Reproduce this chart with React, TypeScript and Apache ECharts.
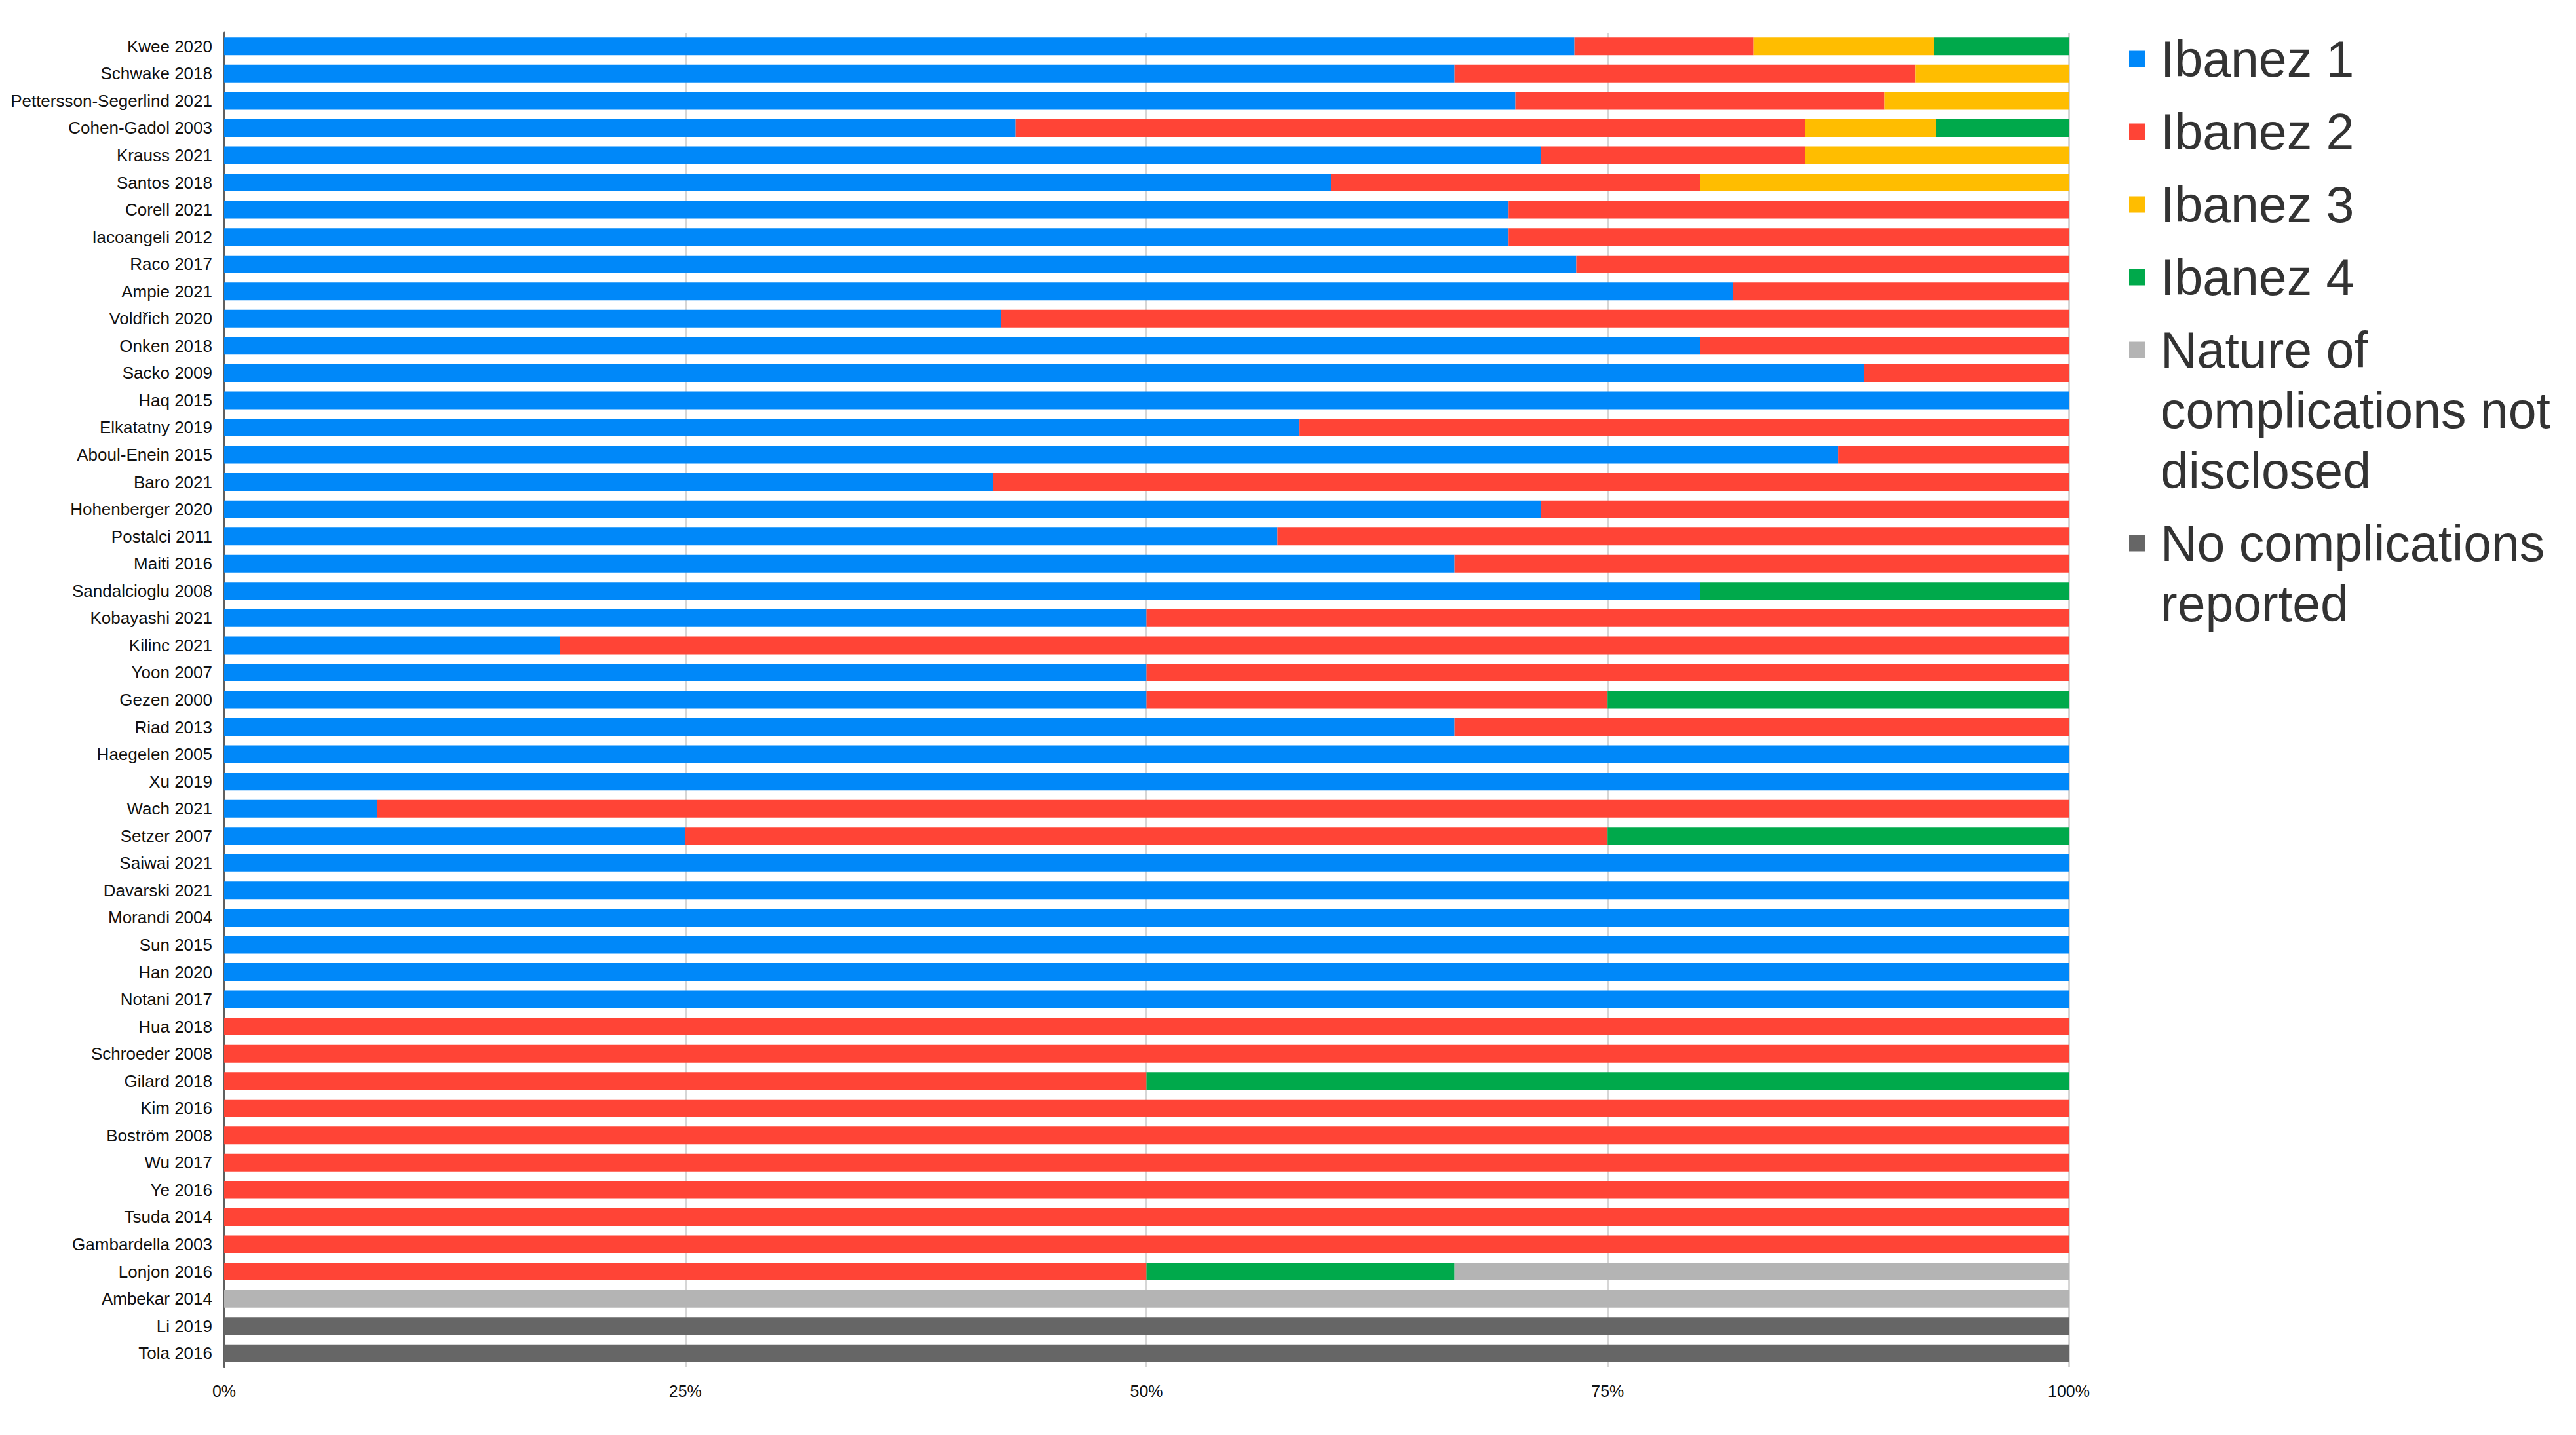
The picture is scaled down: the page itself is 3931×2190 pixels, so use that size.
import React, { useEffect, useRef } from "react";
import * as echarts from "echarts";

const categories = [
  "Kwee 2020", "Schwake 2018", "Pettersson-Segerlind 2021", "Cohen-Gadol 2003", "Krauss 2021",
  "Santos 2018", "Corell 2021", "Iacoangeli 2012", "Raco 2017", "Ampie 2021",
  "Voldřich 2020", "Onken 2018", "Sacko 2009", "Haq 2015", "Elkatatny 2019",
  "Aboul-Enein 2015", "Baro 2021", "Hohenberger 2020", "Postalci 2011", "Maiti 2016",
  "Sandalcioglu 2008", "Kobayashi 2021", "Kilinc 2021", "Yoon 2007", "Gezen 2000",
  "Riad 2013", "Haegelen 2005", "Xu 2019", "Wach 2021", "Setzer 2007",
  "Saiwai 2021", "Davarski 2021", "Morandi 2004", "Sun 2015", "Han 2020",
  "Notani 2017", "Hua 2018", "Schroeder 2008", "Gilard 2018", "Kim 2016",
  "Boström 2008", "Wu 2017", "Ye 2016", "Tsuda 2014", "Gambardella 2003",
  "Lonjon 2016", "Ambekar 2014", "Li 2019", "Tola 2016",
];

const ibanez1 = [
  73.2, 66.7, 70, 42.9, 71.4, 60, 69.6, 69.6, 73.3, 81.8,
  42.1, 80, 88.9, 100, 58.3, 87.5, 41.7, 71.4, 57.1, 66.7,
  80, 50, 18.2, 50, 50, 66.7, 100, 100, 8.3, 25,
  100, 100, 100, 100, 100, 100, 0, 0, 0, 0,
  0, 0, 0, 0, 0, 0, 0, 0, 0,
];
const ibanez2 = [
  9.7, 25, 20, 42.8, 14.3, 20, 30.4, 30.4, 26.7, 18.2,
  57.9, 20, 11.1, 0, 41.7, 12.5, 58.3, 28.6, 42.9, 33.3,
  0, 50, 81.8, 50, 25, 33.3, 0, 0, 91.7, 50,
  0, 0, 0, 0, 0, 0, 100, 100, 50, 100,
  100, 100, 100, 100, 100, 50, 0, 0, 0,
];
const ibanez3 = [
  9.8, 8.3, 10, 7.1, 14.3, 20, 0, 0, 0, 0,
  0, 0, 0, 0, 0, 0, 0, 0, 0, 0,
  0, 0, 0, 0, 0, 0, 0, 0, 0, 0,
  0, 0, 0, 0, 0, 0, 0, 0, 0, 0,
  0, 0, 0, 0, 0, 0, 0, 0, 0,
];
const ibanez4 = [
  7.3, 0, 0, 7.2, 0, 0, 0, 0, 0, 0,
  0, 0, 0, 0, 0, 0, 0, 0, 0, 0,
  20, 0, 0, 0, 25, 0, 0, 0, 0, 25,
  0, 0, 0, 0, 0, 0, 0, 0, 50, 0,
  0, 0, 0, 0, 0, 16.7, 0, 0, 0,
];
const notDisclosed = [
  0, 0, 0, 0, 0, 0, 0, 0, 0, 0,
  0, 0, 0, 0, 0, 0, 0, 0, 0, 0,
  0, 0, 0, 0, 0, 0, 0, 0, 0, 0,
  0, 0, 0, 0, 0, 0, 0, 0, 0, 0,
  0, 0, 0, 0, 0, 33.3, 100, 0, 0,
];
const noComplications = [
  0, 0, 0, 0, 0, 0, 0, 0, 0, 0,
  0, 0, 0, 0, 0, 0, 0, 0, 0, 0,
  0, 0, 0, 0, 0, 0, 0, 0, 0, 0,
  0, 0, 0, 0, 0, 0, 0, 0, 0, 0,
  0, 0, 0, 0, 0, 0, 0, 100, 100,
];

const seriesNames = [
  "Ibanez 1", "Ibanez 2", "Ibanez 3", "Ibanez 4",
  "Nature of complications not disclosed", "No complications reported",
];
const legendLabels = [
  "Ibanez 1", "Ibanez 2", "Ibanez 3", "Ibanez 4",
  "Nature of\ncomplications not\ndisclosed", "No complications\nreported",
];
const seriesColors = ["#0088F9", "#FF4436", "#FFBD00", "#00A94B", "#B4B4B4", "#666666"];
const xTicks = [0, 25, 50, 75, 100];

const FONT = "'Liberation Sans', Arial, Helvetica, sans-serif";

export default function App() {
  const ref = useRef<HTMLDivElement>(null);

  useEffect(() => {
    if (!ref.current) return;
    const chart = echarts.init(ref.current, undefined, { renderer: "svg" });
    const allData = [ibanez1, ibanez2, ibanez3, ibanez4, notDisclosed, noComplications];

    // legend drawn as graphic so multi-line items keep icon on the first line
    const legendGraphics: any[] = [];
    let cy = 90;
    legendLabels.forEach((label, i) => {
      const lines = label.split("\n").length;
      legendGraphics.push({
        type: "rect",
        shape: { x: 3249, y: cy - 12.5, width: 25, height: 25 },
        style: { fill: seriesColors[i] },
        silent: true,
      });
      legendGraphics.push({
        type: "text",
        x: 3297,
        y: cy - 46,
        style: {
          text: label,
          fontSize: 77,
          lineHeight: 92,
          fontFamily: FONT,
          fill: "#333333",
          verticalAlign: "top",
          align: "left",
        },
        silent: true,
      });
      cy += (lines - 1) * 92 + 111;
    });

    chart.setOption({
      animation: false,
      backgroundColor: "#ffffff",
      textStyle: { fontFamily: FONT },
      grid: { left: 342, right: 774, top: 50, bottom: 104, containLabel: false },
      xAxis: {
        type: "value",
        min: xTicks[0],
        max: xTicks[xTicks.length - 1],
        interval: 25,
        axisLine: { show: false },
        axisTick: { show: false },
        axisLabel: {
          formatter: "{value}%",
          fontSize: 25,
          color: "#111111",
          margin: 24,
          fontFamily: FONT,
        },
        splitLine: { show: true, lineStyle: { color: "#d6d6d6", width: 3 } },
      },
      yAxis: {
        type: "category",
        data: categories,
        inverse: true,
        axisLine: { show: true, lineStyle: { color: "#5f5f5f", width: 3 } },
        axisTick: { show: false },
        splitLine: { show: false },
        axisLabel: {
          fontSize: 26,
          color: "#111111",
          margin: 18,
          fontFamily: FONT,
          interval: 0,
        },
      },
      series: seriesNames.map((name, i) => ({
        name,
        type: "bar",
        stack: "total",
        data: allData[i],
        barCategoryGap: "35%",
        itemStyle: { color: seriesColors[i] },
        emphasis: { disabled: true },
      })),
      graphic: legendGraphics,
    });

    return () => chart.dispose();
  }, []);

  return (
    <div
      ref={ref}
      style={{ position: "fixed", left: 0, top: 0, width: 3931, height: 2190, background: "#fff" }}
    />
  );
}
